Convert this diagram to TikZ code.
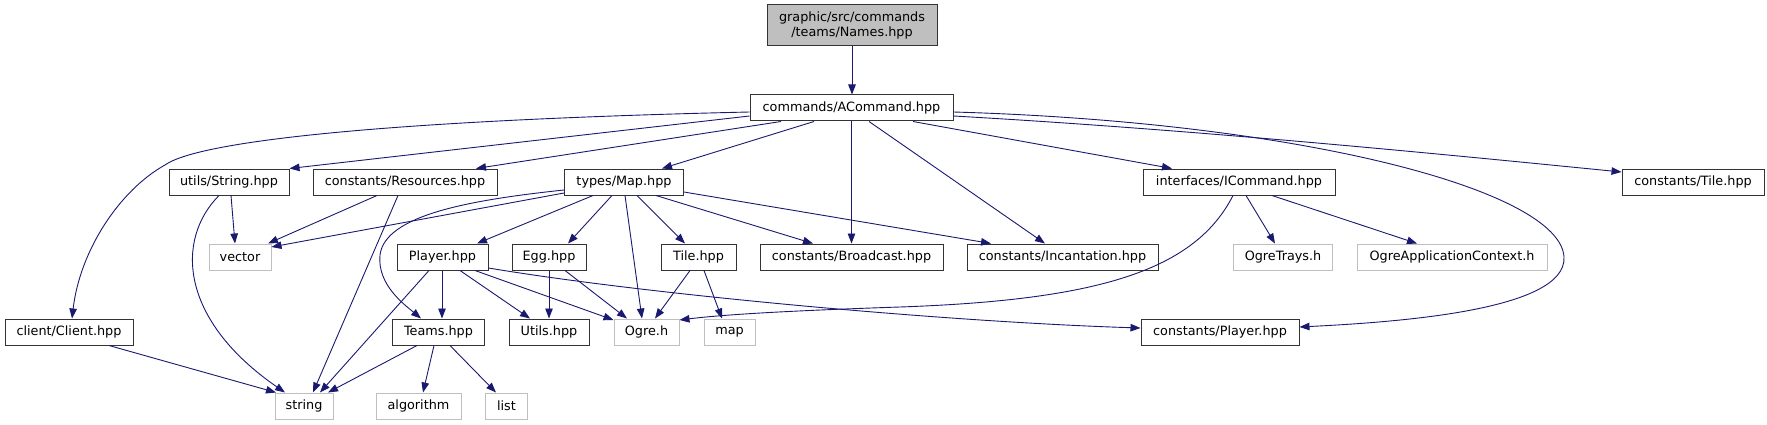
\documentclass[tikz,border=0pt]{standalone}
\usepackage{fontspec}
\setmainfont{DejaVu Sans}
\usetikzlibrary{arrows.meta}
\definecolor{edgec}{HTML}{191970}
\definecolor{grayb}{HTML}{BFBFBF}
\begin{document}
\begin{tikzpicture}[x=1pt,y=-1pt,
  box/.style={draw=black!80, line width=1pt, inner sep=0pt, minimum height=26pt,
    font=\fontsize{12.8}{15.5}\selectfont, text=black},
  ext/.style={box, draw=grayb},
  dep/.style={draw=edgec, line width=0.9pt, -{Triangle[length=10pt,width=7.5pt]}},
]
\useasboundingbox (0,0) rectangle (1767,425);
% nodes
\node[box, fill=grayb, minimum width=170pt, minimum height=41pt, align=center] (names) at (852,25.5) {graphic/src/commands\\/teams/Names.hpp};
\node[box, minimum width=203pt] (acmd) at (851.5,108) {commands/ACommand.hpp};
\node[box, minimum width=120pt] (str) at (229,182) {utils/String.hpp};
\node[box, minimum width=184pt] (res) at (405,182) {constants/Resources.hpp};
\node[box, minimum width=119pt] (map) at (624,182) {types/Map.hpp};
\node[box, minimum width=192pt] (icmd) at (1239,182) {interfaces/ICommand.hpp};
\node[box, minimum width=142pt] (ctile) at (1693,182) {constants/Tile.hpp};
\node[ext, minimum width=62pt] (vector) at (240,257) {vector};
\node[box, minimum width=91pt] (player) at (442.5,257) {Player.hpp};
\node[box, minimum width=74pt] (egg) at (549,257) {Egg.hpp};
\node[box, minimum width=75pt] (tile) at (698.5,257) {Tile.hpp};
\node[box, minimum width=183pt] (bcast) at (851.5,257) {constants/Broadcast.hpp};
\node[box, minimum width=191pt] (incant) at (1062.5,257) {constants/Incantation.hpp};
\node[ext, minimum width=99pt] (trays) at (1283,257) {OgreTrays.h};
\node[ext, minimum width=190pt] (appctx) at (1452,257) {OgreApplicationContext.h};
\node[box, minimum width=128pt] (client) at (69,332) {client/Client.hpp};
\node[box, minimum width=92pt] (teams) at (438.5,332) {Teams.hpp};
\node[box, minimum width=80pt] (utils) at (549,332) {Utils.hpp};
\node[ext, minimum width=65pt] (ogre) at (646.5,332) {Ogre.h};
\node[ext, minimum width=51pt] (stdmap) at (729.5,332) {map};
\node[box, minimum width=158pt] (cplayer) at (1220,332) {constants/Player.hpp};
\node[ext, minimum width=58pt] (string) at (304,406) {string};
\node[ext, minimum width=85pt] (algorithm) at (418.5,406) {algorithm};
\node[ext, minimum width=42pt] (list) at (506.5,406) {list};
% edges
\draw[dep] (names.south) -- (names.south |- acmd.north);
\draw[dep] ([yshift=-4pt]acmd.west) .. controls (400,120) and (200,140) .. (165,165)
   .. controls (120,190) and (80,250) .. ([xshift=3pt]client.north);
\draw[dep] ([yshift=-8pt]acmd.west) -- (str.north east);
\draw[dep] ([xshift=-70.5pt]acmd.south) -- ([xshift=71pt]res.north);
\draw[dep] ([xshift=-37.5pt]acmd.south) -- ([xshift=38pt]map.north);
\draw[dep] (acmd.south) -- (bcast.north);
\draw[dep] ([xshift=17.5pt]acmd.south) -- ([xshift=-17.5pt]incant.north);
\draw[dep] ([xshift=61.5pt]acmd.south) -- ([xshift=-67pt]icmd.north);
\draw[dep] ([yshift=-8pt]acmd.east) .. controls (1200,130) and (1450,155) .. ([yshift=10pt]ctile.west);
\draw[dep] ([yshift=-4pt]acmd.east) .. controls (1300,122) and (1560,190) .. (1564,257)
   .. controls (1567,310) and (1400,322) .. ([yshift=5pt]cplayer.east);
% utils/String
\draw[dep] ([xshift=2pt]str.south) -- ([xshift=-5pt]vector.north);
\draw[dep] ([xshift=-10pt]str.south) .. controls (175,240) and (180,320) .. ([xshift=-19pt]string.north);
% Resources
\draw[dep] ([xshift=-28pt]res.south) -- ([xshift=28pt]vector.north);
\draw[dep] ([xshift=-7pt]res.south) -- ([xshift=9pt]string.north);
% Map
\draw[dep] ([yshift=-11pt]map.west) -- ([yshift=10pt]vector.east);
\draw[dep] ([yshift=-8pt]map.west) .. controls (470,200) and (385,215) .. (380,255)
   .. controls (377,285) and (405,305) .. ([xshift=-17.5pt]teams.north);
\draw[dep] ([xshift=-31pt]map.south) -- ([xshift=34.5pt]player.north);
\draw[dep] ([xshift=-12pt]map.south) -- ([xshift=19pt]egg.north);
\draw[dep] ([xshift=1pt]map.south) -- ([xshift=-4.5pt]ogre.north);
\draw[dep] ([xshift=13pt]map.south) -- ([xshift=-13.5pt]tile.north);
\draw[dep] ([xshift=32pt]map.south) -- ([xshift=-38.5pt]bcast.north);
\draw[dep] ([yshift=-10pt]map.east) -- ([xshift=-71.5pt]incant.north);
% Player
\draw[dep] ([xshift=-0.5pt]player.south) -- ([xshift=3.5pt]teams.north);
\draw[dep] ([xshift=-13.5pt]player.south) -- ([xshift=16pt]string.north);
\draw[dep] ([xshift=17.5pt]player.south) -- ([xshift=-19pt]utils.north);
\draw[dep] ([xshift=32.5pt]player.south) -- ([yshift=12pt]ogre.west);
\draw[dep] ([yshift=-11pt]player.east) .. controls (650,295) and (950,322) .. ([yshift=4pt]cplayer.west);
% Egg
\draw[dep] (egg.south) -- (utils.north);
\draw[dep] ([xshift=16pt]egg.south) -- ([xshift=-19.5pt]ogre.north);
% Tile
\draw[dep] ([xshift=-8.5pt]tile.south) -- ([xshift=8.5pt]ogre.north);
\draw[dep] ([xshift=5.5pt]tile.south) -- ([xshift=-7.5pt]stdmap.north);
% Teams
\draw[dep] ([xshift=-21.5pt]teams.south) -- ([xshift=24pt]string.north);
\draw[dep] ([xshift=-4.5pt]teams.south) -- ([xshift=4.5pt]algorithm.north);
\draw[dep] ([xshift=11.5pt]teams.south) -- ([xshift=-10.5pt]list.north);
% Client
\draw[dep] ([xshift=40pt]client.south) -- ([xshift=-28pt]string.north);
% ICommand
\draw[dep] ([xshift=-6pt]icmd.south) .. controls (1195,270) and (1100,300) .. (900,307)
   .. controls (780,311) and (720,315) .. ([yshift=12pt]ogre.east);
\draw[dep] ([xshift=7pt]icmd.south) -- ([xshift=-8pt]trays.north);
\draw[dep] ([xshift=33pt]icmd.south) -- ([xshift=-35pt]appctx.north);
\end{tikzpicture}
\end{document}
